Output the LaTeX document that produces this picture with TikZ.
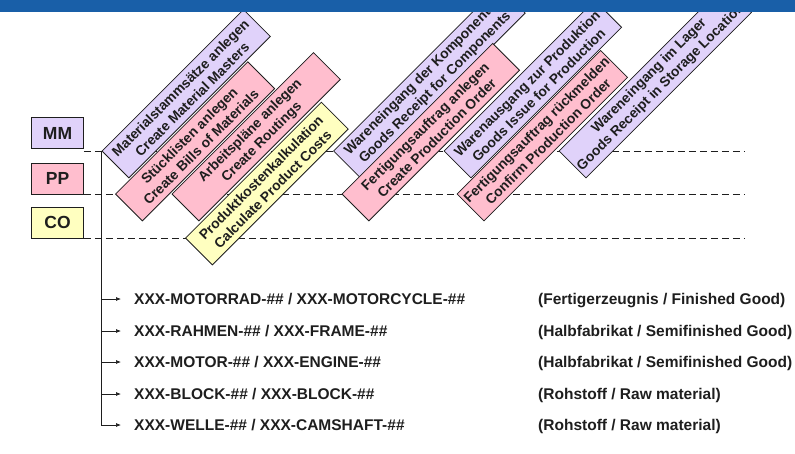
\documentclass[tikz,border=0pt]{standalone}
\usepackage{fontspec}
\setmainfont{Liberation Sans}
\usetikzlibrary{arrows.meta}
\definecolor{barblue}{RGB}{25,95,168}
\definecolor{mmcol}{RGB}{224,210,250}
\definecolor{ppcol}{RGB}{255,190,206}
\definecolor{cocol}{RGB}{255,255,192}
\definecolor{inkc}{RGB}{30,30,30}
\begin{document}
\begin{tikzpicture}[x=1pt,y=-1pt,
  lab/.style={draw=inkc, line width=0.8pt, minimum width=52pt, minimum height=31pt, inner sep=0pt,
    text=inkc, font=\fontsize{17.5}{17.5}\selectfont\bfseries},
  task/.style={draw=inkc, line width=0.8pt, rotate=45, anchor=north west, minimum height=38pt,
    inner sep=0pt, align=center, text=inkc, font=\fontsize{13.8}{16.5}\selectfont\bfseries},
  lane/.style={draw=inkc, dash pattern=on 7pt off 4pt, line width=0.7pt},
  item/.style={anchor=west, inner sep=0pt, text height=11pt, text depth=0pt, text=inkc,
    font=\fontsize{15.5}{15.5}\selectfont\bfseries},
  tree/.style={draw=inkc, line width=0.7pt},
  arr/.style={tree, -{Latex[length=5pt,width=4pt]}}
]
\useasboundingbox (0,0) rectangle (795,453);
% module labels
\node[lab, fill=mmcol] (mm) at (57.5,133) {MM};
\node[lab, fill=ppcol] (pp) at (57.5,178.5) {PP};
\node[lab, fill=cocol] (co) at (57.5,222.5) {CO};
% lanes
\coordinate (mmE) at (745,151);
\coordinate (ppE) at (745,194);
\coordinate (coE) at (745,238);
\draw[lane] (mm.east |- mmE) -- (mmE);
\draw[lane] (pp.east |- ppE) -- (ppE);
\draw[lane] (co.east |- coE) -- (coE);
% process steps
\node[task, fill=mmcol, minimum width=200pt] (t1) at (101.5,151) {Materialstammsätze anlegen\\Create Material Masters};
\node[task, fill=ppcol, minimum width=187pt] (t2) at (115,194) {Stücklisten anlegen\\Create Bills of Materials};
\node[task, fill=ppcol, minimum width=200pt] (t3) at (171.5,194) {Arbeitspläne anlegen\\Create Routings};
\node[task, fill=cocol, minimum width=192pt] (t4) at (185,238) {Produktkostenkalkulation\\Calculate Product Costs};
\node[task, fill=mmcol, minimum width=233pt] (t5) at (333,151) {Wareneingang der Komponenten\\Goods Receipt for Components};
\node[task, fill=ppcol, minimum width=213pt] (t6) at (341.5,194) {Fertigungsauftrag anlegen\\Create Production Order};
\node[task, fill=mmcol, minimum width=213pt] (t7) at (443.5,151) {Warenausgang zur Produktion\\Goods Issue for Production};
\node[task, fill=ppcol, minimum width=203pt] (t8) at (456.5,194) {Fertigungsauftrag rückmelden\\Confirm Production Order};
\node[task, fill=mmcol, minimum width=234pt] (t9) at (558.5,151) {Wareneingang im Lager\\Goods Receipt in Storage Location};
% material list
\node[item] (i1) at (134,299) {XXX-MOTORRAD-\#\# / XXX-MOTORCYCLE-\#\#};
\node[item] (i2) at (134,331) {XXX-RAHMEN-\#\# / XXX-FRAME-\#\#};
\node[item] (i3) at (134,362) {XXX-MOTOR-\#\# / XXX-ENGINE-\#\#};
\node[item] (i4) at (134,394) {XXX-BLOCK-\#\# / XXX-BLOCK-\#\#};
\node[item] (i5) at (134,425) {XXX-WELLE-\#\# / XXX-CAMSHAFT-\#\#};
\node[item] (c1) at (538,299) {(Fertigerzeugnis / Finished Good)};
\node[item] (c2) at (538,331) {(Halbfabrikat / Semifinished Good)};
\node[item] (c3) at (538,362) {(Halbfabrikat / Semifinished Good)};
\node[item] (c4) at (538,394) {(Rohstoff / Raw material)};
\node[item] (c5) at (538,425) {(Rohstoff / Raw material)};
% tree
\coordinate (root) at (101,151);
\draw[tree] (root) -- (root |- i5.west);
\foreach \i in {1,...,5}{
  \draw[arr] (root |- i\i.west) -- ([xshift=-13pt]i\i.west);
}
% top bar
\fill[barblue] (0,0) rectangle (795,11.5);
\end{tikzpicture}
\end{document}
